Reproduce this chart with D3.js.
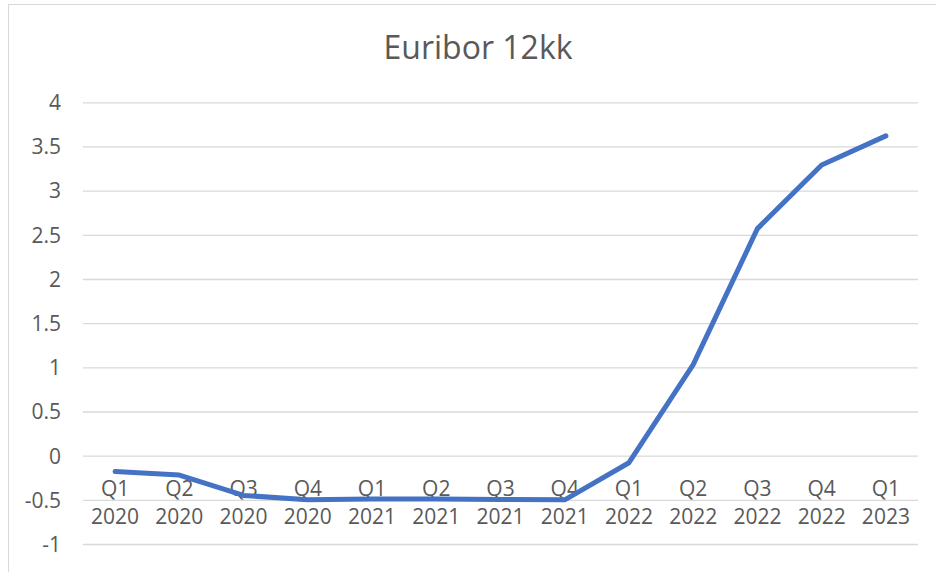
<!DOCTYPE html>
<html>
<head>
<meta charset="utf-8">
<script src="https://cdn.jsdelivr.net/npm/d3@7"></script>
<style>
  html, body { margin: 0; padding: 0; background: #fff; }
  svg { display: block; }
  text { font-family: "Open Sans", "Liberation Sans", sans-serif; fill: #595959; }
</style>
</head>
<body>
<svg id="chart" width="936" height="572"></svg>
<script>
// ---- data ----
const title = "Euribor 12kk";
const quarters = ["Q1","Q2","Q3","Q4","Q1","Q2","Q3","Q4","Q1","Q2","Q3","Q4","Q1"];
const years = ["2020","2020","2020","2020","2021","2021","2021","2021","2022","2022","2022","2022","2023"];
const values = [-0.18, -0.22, -0.45, -0.50, -0.49, -0.49, -0.495, -0.50, -0.08, 1.03, 2.57, 3.29, 3.62];
const yTicks = [-1, -0.5, 0, 0.5, 1, 1.5, 2, 2.5, 3, 3.5, 4];
const yTickLabels = ["-1", "-0.5", "0", "0.5", "1", "1.5", "2", "2.5", "3", "3.5", "4"];

const categories = quarters.map((q, i) => q + " " + years[i]);

const svg = d3.select("#chart");
const W = 936, H = 572;
const m = { left: 83, right: 18, top: 102.3, bottom: 28 };
const plotW = W - m.left - m.right;

// chart border
svg.append("rect")
  .attr("x", 8.5).attr("y", 4.5).attr("width", 1000).attr("height", 700)
  .attr("fill", "#fff").attr("stroke", "#D9D9D9").attr("stroke-width", 1);

const x = d3.scaleBand().domain(categories).range([m.left, m.left + plotW]).padding(0);
const y = d3.scaleLinear().domain([-1, 4]).range([544, 102.3]);

// title
svg.append("text")
  .attr("x", 478).attr("y", 59)
  .attr("text-anchor", "middle")
  .attr("font-size", 32)
  .text(title);

// y axis with gridlines
const yAxis = d3.axisLeft(y).tickValues(yTicks).tickSize(-plotW).tickPadding(22)
  .tickFormat((d, i) => yTickLabels[i]);
const gy = svg.append("g").attr("transform", `translate(${m.left},0)`).call(yAxis);
gy.select(".domain").remove();
gy.selectAll(".tick line").attr("stroke", "#D9D9D9").attr("stroke-width", 1.3);
gy.selectAll(".tick text").attr("font-size", 21).attr("fill", "#595959")
  .attr("font-family", "'Open Sans', sans-serif").attr("dy", "0.35em");

// x axis labels (two lines) below the zero line
const xAxis = d3.axisBottom(x).tickSize(0).tickPadding(0).tickFormat(() => "");
const gx = svg.append("g").attr("transform", `translate(0,${y(0)})`).call(xAxis);
gx.select(".domain").remove();
gx.selectAll(".tick").each(function(d, i) {
  const t = d3.select(this).append("text")
    .attr("text-anchor", "middle")
    .attr("font-size", 21)
    .attr("font-family", "'Open Sans', sans-serif")
    .attr("fill", "#595959");
  t.append("tspan").attr("x", 0).attr("y", 40).text(quarters[i]);
  t.append("tspan").attr("x", 0).attr("y", 68).text(years[i]);
});

// line
const line = d3.line()
  .x((d, i) => x(categories[i]) + x.bandwidth() / 2)
  .y(d => y(d));
svg.append("path")
  .datum(values)
  .attr("d", line)
  .attr("fill", "none")
  .attr("stroke", "#4472C4")
  .attr("stroke-width", 5)
  .attr("stroke-linejoin", "round")
  .attr("stroke-linecap", "round");
</script>
</body>
</html>
